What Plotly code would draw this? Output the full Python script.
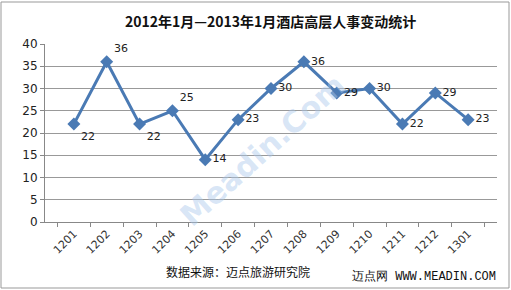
import plotly.graph_objects as go

months = ["1201", "1202", "1203", "1204", "1205", "1206", "1207",
          "1208", "1209", "1210", "1211", "1212", "1301"]
counts = [22, 36, 22, 25, 14, 23, 30, 36, 29, 30, 22, 29, 23]
label_pos = ["bottom right", "top right", "bottom right", "top right",
             "middle right", "middle right", "middle right", "middle right",
             "middle right", "middle right", "middle right", "middle right",
             "middle right"]

W, H = 511, 290
L, R, T, B = 45, 14, 44, 68
pw, ph = W - L - R, H - T - B

def px(x):
    return (x - L) / pw

def py(y):
    return (H - B - y) / ph

fig = go.Figure()
fig.add_trace(go.Scatter(
    x=months, y=counts, mode="lines+markers+text",
    line=dict(color="#4a7ab4", width=3),
    marker=dict(symbol="diamond", size=10, color="#4a7ab4"),
    text=[str(v) for v in counts], textposition=label_pos,
    textfont=dict(family="DejaVu Sans", size=11, color="#222"),
    cliponaxis=False, showlegend=False,
))

fig.update_layout(
    width=W, height=H,
    margin=dict(l=L, r=R, t=T, b=B),
    paper_bgcolor="white", plot_bgcolor="white",
    font=dict(family="DejaVu Sans", size=11, color="#222"),
    xaxis=dict(type="category", showgrid=False, showline=True,
               linecolor="#888", linewidth=1, ticks="outside",
               tickson="boundaries", ticklen=4, tickcolor="#888",
               tickangle=-45, tickfont=dict(size=11, color="#333")),
    yaxis=dict(range=[0, 40], dtick=5, showgrid=True, gridcolor="#999",
               gridwidth=1, showline=True, linecolor="#888", ticks="outside",
               ticklen=4, tickcolor="#888", zeroline=False,
               tickfont=dict(size=12, color="#222")),
    shapes=[dict(type="rect", xref="paper", yref="paper",
                 x0=px(1), x1=px(509), y0=py(288), y1=py(2),
                 line=dict(color="#999", width=1))],
    annotations=[
        dict(text="<b>2012年1月—2013年1月酒店高层人事变动统计</b>",
             xref="paper", yref="paper", x=px(270), y=py(21),
             xanchor="center", yanchor="middle", showarrow=False,
             font=dict(family="Noto Sans CJK SC", size=14, color="#111")),
        dict(text="<b>Meadin.Com</b>", xref="paper", yref="paper",
             x=px(262), y=py(150), xanchor="center", yanchor="middle",
             showarrow=False, textangle=-42,
             font=dict(family="DejaVu Sans", size=30,
                       color="rgba(170,200,235,0.45)")),
        dict(text="数据来源：迈点旅游研究院", xref="paper", yref="paper",
             x=px(238), y=py(271), xanchor="center", yanchor="middle",
             showarrow=False,
             font=dict(family="Noto Sans CJK SC", size=12, color="#111")),
        dict(text="迈点网 WWW.MEADIN.COM", xref="paper", yref="paper",
             x=px(424), y=py(276), xanchor="center", yanchor="middle",
             showarrow=False,
             font=dict(family="Liberation Mono", size=12, color="#111")),
    ],
)

fig.write_html("out.html")
